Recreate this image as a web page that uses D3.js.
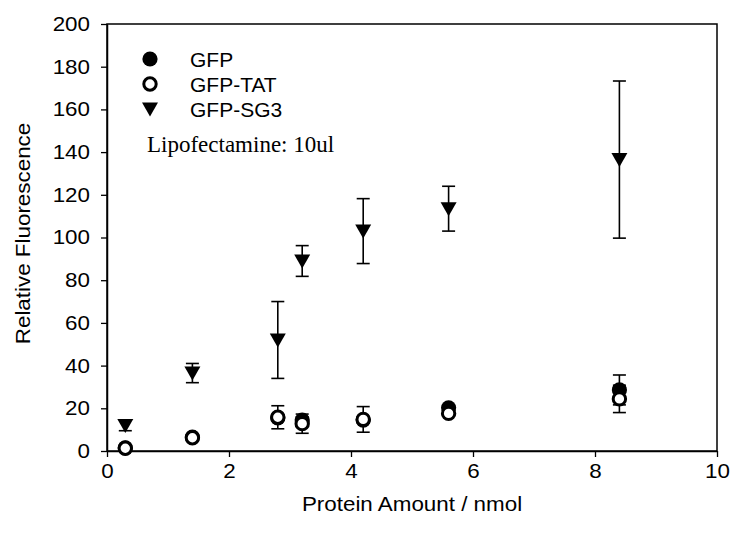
<!DOCTYPE html>
<html>
<head>
<meta charset="utf-8">
<script src="https://cdn.jsdelivr.net/npm/d3@7"></script>
<style>
  html, body { margin: 0; padding: 0; background: #fff; }
  svg { display: block; }
</style>
</head>
<body>
<script>
// Protein amounts (nmol) shared by all three series
const amounts = [0.3, 1.4, 2.8, 3.2, 4.2, 5.6, 8.4];

// Mean relative fluorescence and error for each construct
const gfpMean = [1.5, 6.5, 15.5, 14.5, 14.5, 20.2, 28.6];
const gfpErr  = [0.5, 1.0, 1.0, 1.5, 1.5, 1.0, 7.0];
const tatMean = [1.3, 6.2, 15.8, 12.8, 14.8, 17.6, 24.4];
const tatErr  = [0.5, 1.0, 5.4, 4.5, 6.0, 1.0, 6.4];
const sg3Mean = [12.0, 36.5, 52.0, 89.0, 103.0, 113.5, 136.5];
const sg3Err  = [2.5, 4.5, 18.0, 7.2, 15.2, 10.5, 36.8];

const seriesNames = ["GFP", "GFP-TAT", "GFP-SG3"];
const xTicks = [0, 2, 4, 6, 8, 10];
const yTicks = [0, 20, 40, 60, 80, 100, 120, 140, 160, 180, 200];
const note = "Lipofectamine: 10ul";
const xTitle = "Protein Amount / nmol";
const yTitle = "Relative Fluorescence";

const W = 735, H = 536;
const plot = { left: 107, right: 717, top: 24, bottom: 451 };
const sans = "'Liberation Sans', Arial, sans-serif";
const serif = "'Liberation Serif', 'Times New Roman', serif";
const SX = 1.12; // horizontal stretch of the sans labels

const svg = d3.select("body").append("svg")
  .attr("width", W).attr("height", H);

const x = d3.scaleLinear().domain([0, 10]).range([plot.left, plot.right]);
const y = d3.scaleLinear().domain([0, 200]).range([plot.bottom, plot.top]);

// Plot frame
svg.append("rect")
  .attr("x", plot.left).attr("y", plot.top)
  .attr("width", plot.right - plot.left).attr("height", plot.bottom - plot.top)
  .attr("fill", "none").attr("stroke", "#000").attr("stroke-width", 1.5);

// Axes
const yAxis = svg.append("g")
  .attr("transform", `translate(${plot.left},0)`)
  .call(d3.axisLeft(y).tickValues(yTicks).tickSize(6).tickPadding(11).tickSizeOuter(0));
const xAxis = svg.append("g")
  .attr("transform", `translate(0,${plot.bottom})`)
  .call(d3.axisBottom(x).tickValues(xTicks).tickSize(6).tickPadding(7).tickSizeOuter(0));

[yAxis, xAxis].forEach(g => {
  g.select(".domain").attr("stroke", "#000").attr("stroke-width", 1.5);
  g.selectAll(".tick line").attr("stroke", "#000").attr("stroke-width", 1.3);
  g.selectAll(".tick text")
    .attr("fill", "#000")
    .style("font-family", sans)
    .style("font-size", "20px");
});
yAxis.selectAll(".tick text")
  .attr("transform", function () {
    const xx = +d3.select(this).attr("x");
    return `translate(${xx},0) scale(${SX},1) translate(${-xx},0)`;
  });
xAxis.selectAll(".tick text")
  .attr("transform", `scale(${SX},1)`);

// Stretched text helper
function label(parent, tx, ty, str, opts = {}) {
  return parent.append("text")
    .attr("transform", `translate(${tx},${ty})${opts.rotate ? ` rotate(${opts.rotate})` : ""} scale(${opts.sx || 1},1)`)
    .attr("text-anchor", opts.anchor || "start")
    .style("font-family", opts.family || sans)
    .style("font-size", (opts.size || 20) + "px")
    .attr("fill", "#000")
    .text(str);
}

label(svg, (plot.left + plot.right) / 2, 511, xTitle, { anchor: "middle", sx: SX, size: 20 });
label(svg, 30, (plot.top + plot.bottom) / 2 - 4, yTitle, { anchor: "middle", sx: SX, size: 20, rotate: -90 });

// Marker shapes
const circleR = 6.2;
const triPath = "M-8,-6.5 L8,-6.5 L0,7.5 Z";

function drawSeries(means, errs, kind) {
  const g = svg.append("g");
  const pts = amounts.map((a, i) => ({ a, m: means[i], e: errs[i] }));
  // error bars
  const eb = g.selectAll("g.eb").data(pts).join("g").attr("class", "eb");
  eb.append("line")
    .attr("x1", d => x(d.a)).attr("x2", d => x(d.a))
    .attr("y1", d => y(d.m - d.e)).attr("y2", d => y(d.m + d.e))
    .attr("stroke", "#000").attr("stroke-width", 1.6);
  [-1, 1].forEach(s => {
    eb.append("line")
      .attr("x1", d => x(d.a) - 6.5).attr("x2", d => x(d.a) + 6.5)
      .attr("y1", d => y(d.m + s * d.e)).attr("y2", d => y(d.m + s * d.e))
      .attr("stroke", "#000").attr("stroke-width", 1.6);
  });
  // markers
  if (kind === "tri") {
    g.selectAll("path.mk").data(pts).join("path").attr("class", "mk")
      .attr("d", triPath)
      .attr("transform", d => `translate(${x(d.a)},${y(d.m)})`)
      .attr("fill", "#000");
  } else {
    g.selectAll("circle.mk").data(pts).join("circle").attr("class", "mk")
      .attr("cx", d => x(d.a)).attr("cy", d => y(d.m))
      .attr("r", kind === "filled" ? circleR + 1.4 : circleR)
      .attr("fill", kind === "filled" ? "#000" : "#fff")
      .attr("stroke", "#000")
      .attr("stroke-width", kind === "filled" ? 0 : 3);
  }
}

drawSeries(gfpMean, gfpErr, "filled");
drawSeries(tatMean, tatErr, "open");
drawSeries(sg3Mean, sg3Err, "tri");

// Legend
const legend = svg.append("g");
const legendRows = [
  { name: seriesNames[0], kind: "filled", cy: 59 },
  { name: seriesNames[1], kind: "open", cy: 84 },
  { name: seriesNames[2], kind: "tri", cy: 109 }
];
legendRows.forEach(r => {
  if (r.kind === "tri") {
    legend.append("path").attr("d", triPath)
      .attr("transform", `translate(150,${r.cy})`).attr("fill", "#000");
  } else {
    legend.append("circle").attr("cx", 150).attr("cy", r.cy)
      .attr("r", r.kind === "filled" ? circleR + 1.4 : circleR)
      .attr("fill", r.kind === "filled" ? "#000" : "#fff")
      .attr("stroke", "#000")
      .attr("stroke-width", r.kind === "filled" ? 0 : 3);
  }
  label(legend, 190, r.cy + 7.5, r.name, { sx: 1.05, size: 20 });
});
label(legend, 147, 152, note, { family: serif, size: 23 });
</script>
</body>
</html>
